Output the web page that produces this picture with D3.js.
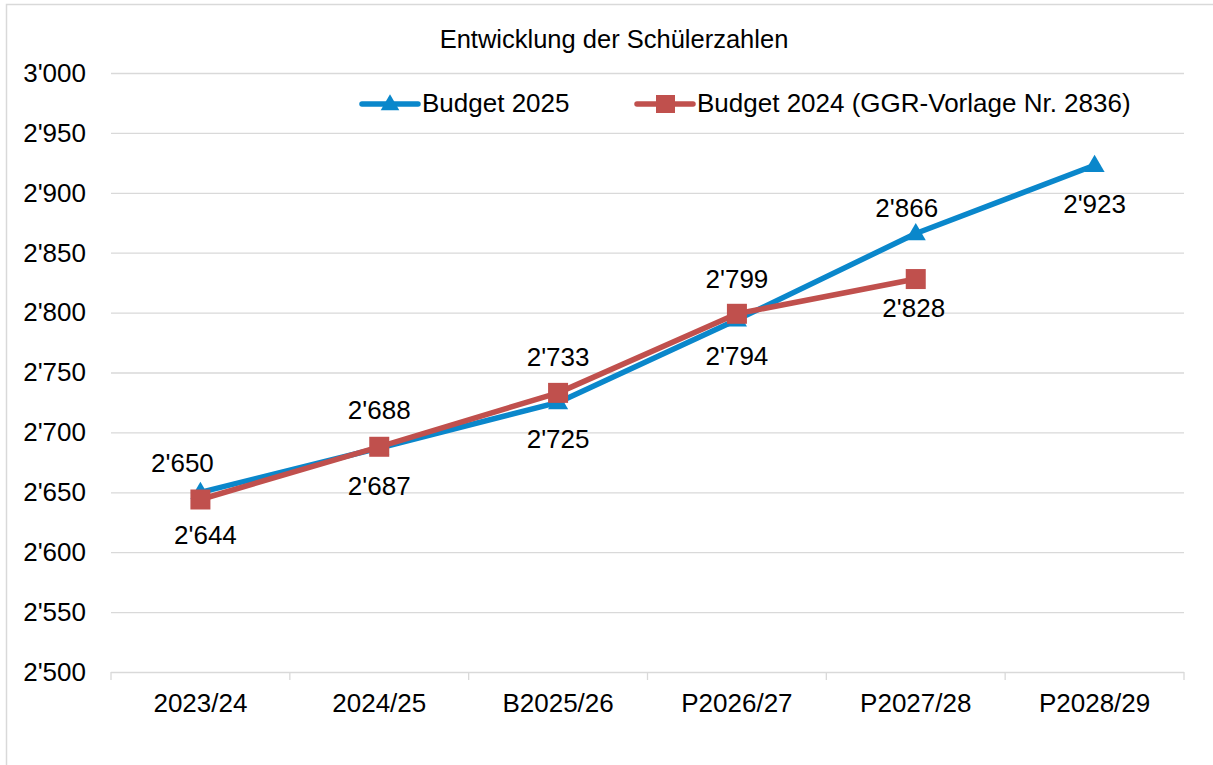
<!DOCTYPE html>
<html>
<head>
<meta charset="utf-8">
<script src="https://cdn.jsdelivr.net/npm/d3@7"></script>
<style>
  body { margin: 0; background: #fff; }
  svg { display: block; font-family: "Liberation Sans", Arial, sans-serif; }
  .grid line { stroke: #d9d9d9; stroke-width: 1.3; }
  .grid path { display: none; }
  .lbl { font-size: 26px; fill: #000; }
</style>
</head>
<body>
<svg width="1213" height="765"></svg>
<script>
// data
var categories = ["2023/24", "2024/25", "B2025/26", "P2026/27", "P2027/28", "P2028/29"];
var budget2025 = [2650, 2687, 2725, 2794, 2866, 2923];
var budget2024 = [2644, 2688, 2733, 2799, 2828];
var seriesNames = ["Budget 2025", "Budget 2024 (GGR-Vorlage Nr. 2836)"];
var yTicks = [2500, 2550, 2600, 2650, 2700, 2750, 2800, 2850, 2900, 2950, 3000];

// label placement (offset of label centre from the point), like excel put them
var lab2025 = [[-18, -30], [0, 38], [0, 36], [0, 36], [-9, -26], [0, 38]];
var lab2024 = [[5, 35], [0, -37], [0, -36], [0, -35], [-2, 29]];

var blue = "#0a87cb", red = "#c0504d";

var svg = d3.select("svg");
var plotL = 111, plotR = 1184, plotT = 73, plotB = 672;

var fmt = d3.formatLocale({ decimal: ".", thousands: "'", grouping: [3], currency: ["", ""] }).format(",d");

var x = d3.scaleBand().domain(categories).range([plotL, plotR]);
var cx = function(c) { return x(c) + x.bandwidth() / 2; };
var y = d3.scaleLinear().domain([2500, 3000]).range([plotB, plotT]);

// outer frame (cut off at right and bottom)
svg.append("rect")
  .attr("x", 6.5).attr("y", 4.5)
  .attr("width", 1300).attr("height", 900)
  .attr("fill", "none").attr("stroke", "#d9d9d9").attr("stroke-width", 1.5);

svg.append("text")
  .attr("x", 614).attr("y", 48)
  .attr("text-anchor", "middle")
  .style("font-size", "25.5px")
  .text("Entwicklung der Schülerzahlen");

// gridlines + y labels
var gy = svg.append("g")
  .attr("class", "grid")
  .attr("transform", "translate(" + plotL + ",0)")
  .call(d3.axisLeft(y).tickValues(yTicks).tickSize(-(plotR - plotL)).tickFormat(fmt).tickPadding(25));
gy.selectAll("text").attr("class", "lbl").style("font-size", "26px").attr("fill", "#000");
gy.attr("font-family", null).attr("font-size", null);

// x axis: baseline with tick marks on the category borders
var ax = svg.append("g");
var borders = categories.map(function(c) { return x(c); }).concat([plotR]);
ax.selectAll("line.tk").data(borders).enter().append("line")
  .attr("x1", d => d).attr("x2", d => d)
  .attr("y1", plotB).attr("y2", plotB + 8)
  .attr("stroke", "#d9d9d9").attr("stroke-width", 1.3);
ax.selectAll("text").data(categories).enter().append("text")
  .attr("class", "lbl")
  .attr("x", d => cx(d)).attr("y", 712)
  .attr("text-anchor", "middle")
  .text(d => d);

var line = d3.line()
  .x(function(d, i) { return cx(categories[i]); })
  .y(function(d) { return y(d); });

var tri = d3.symbol().type(d3.symbolTriangle).size(175);

// Budget 2025
svg.append("path").datum(budget2025)
  .attr("d", line)
  .attr("fill", "none").attr("stroke", blue).attr("stroke-width", 5.5)
  .attr("stroke-linejoin", "round");
svg.selectAll("path.tri").data(budget2025).enter().append("path")
  .attr("class", "tri")
  .attr("d", tri)
  .attr("transform", (d, i) => "translate(" + cx(categories[i]) + "," + (y(d) + 1) + ")")
  .attr("fill", blue);

// Budget 2024
svg.append("path").datum(budget2024)
  .attr("d", line)
  .attr("fill", "none").attr("stroke", red).attr("stroke-width", 5.5)
  .attr("stroke-linejoin", "round");
svg.selectAll("rect.sq").data(budget2024).enter().append("rect")
  .attr("class", "sq")
  .attr("x", (d, i) => cx(categories[i]) - 10)
  .attr("y", d => y(d) - 10)
  .attr("width", 20).attr("height", 20)
  .attr("fill", red);

// data labels
function labels(vals, offs) {
  svg.append("g").selectAll("text").data(vals).enter().append("text")
    .attr("class", "lbl")
    .attr("x", (d, i) => cx(categories[i]) + offs[i][0])
    .attr("y", (d, i) => y(d) + offs[i][1])
    .attr("dy", "0.36em")
    .attr("text-anchor", "middle")
    .text(d => fmt(d));
}
labels(budget2025, lab2025);
labels(budget2024, lab2024);

// legend
var leg = svg.append("g");
var legX = [362, 637];
leg.selectAll("line").data(seriesNames).enter().append("line")
  .attr("x1", (d, i) => legX[i]).attr("x2", (d, i) => legX[i] + 56)
  .attr("y1", 104).attr("y2", 104)
  .attr("stroke", (d, i) => i ? red : blue)
  .attr("stroke-width", 5.5).attr("stroke-linecap", "round");
leg.append("path")
  .attr("d", d3.symbol().type(d3.symbolTriangle).size(150))
  .attr("transform", "translate(" + (legX[0] + 28) + ",105)")
  .attr("fill", blue);
leg.append("rect")
  .attr("x", legX[1] + 19).attr("y", 95)
  .attr("width", 19).attr("height", 18)
  .attr("fill", red);
leg.selectAll("text").data(seriesNames).enter().append("text")
  .attr("class", "lbl")
  .attr("x", (d, i) => legX[i] + 60).attr("y", 112)
  .text(d => d);
</script>
</body>
</html>
